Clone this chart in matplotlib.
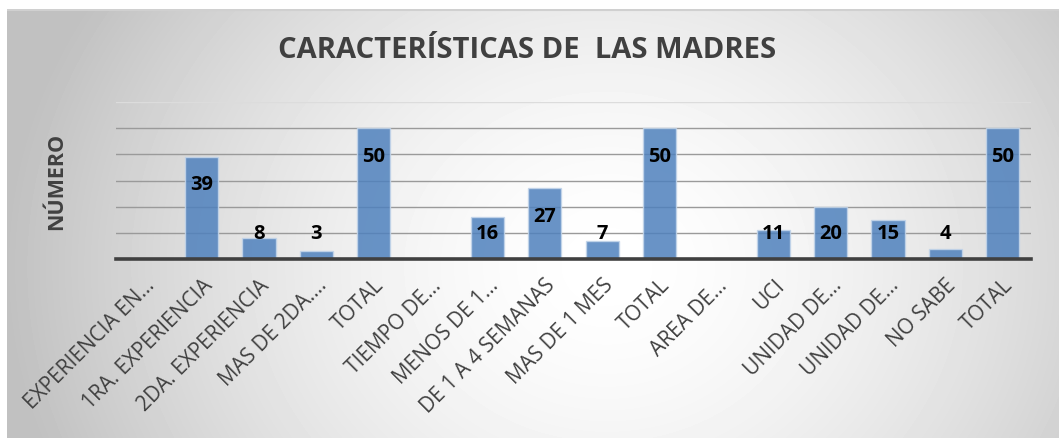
import numpy as np
import matplotlib
matplotlib.use("Agg")
import matplotlib.pyplot as plt

# data
categories = ["EXPERIENCIA EN…", "1RA. EXPERIENCIA", "2DA. EXPERIENCIA", "MAS DE 2DA.…",
              "TOTAL", "TIEMPO DE…", "MENOS DE 1…", "DE 1 A 4 SEMANAS", "MAS DE 1 MES",
              "TOTAL", "AREA DE…", "UCI", "UNIDAD DE…", "UNIDAD DE…", "NO SABE", "TOTAL"]
values = [0, 39, 8, 3, 50, 0, 16, 27, 7, 50, 0, 11, 20, 15, 4, 50]
show_label = [False, True, True, True, True, False, True, True, True, True,
              False, True, True, True, True, True]

plt.rcParams['font.family'] = ['Open Sans', 'DejaVu Sans']
txt = '#404040'

fig = plt.figure(figsize=(10.59, 4.39), dpi=100)
fig.patch.set_facecolor('white')

# radial gradient background for the chart area
bg = fig.add_axes([7 / 1059, 0, 1 - 7 / 1059, 1 - 10 / 439], zorder=-10)
h, w = 429, 1052
yy, xx = np.mgrid[0:h, 0:w]
cx, cy = 0.57 * w, 0.6 * h
d = np.sqrt(((xx - cx) / (0.52 * w)) ** 2 + ((yy - cy) / (1.1 * h)) ** 2)
d = np.clip(d, 0, 1.1)
shade = 1 - 0.21 * d ** 1.6
bg.imshow(shade, cmap='gray', vmin=0, vmax=1, aspect='auto', interpolation='bilinear')
bg.set_axis_off()
bg.axhline(0, color='#d0d0d0', linewidth=1.5)

ax = fig.add_axes([116 / 1059, 179 / 439, 915 / 1059, 157 / 439])
ax.set_facecolor('none')
x = np.arange(len(categories))
bars = ax.bar(x, values, width=0.58, color='#4F81BD', alpha=0.85,
              edgecolor='#c3d5ea', linewidth=1.0, zorder=3)

ax.set_xlim(-0.5, len(categories) - 0.5)
ax.set_ylim(0, 60)
for g in range(10, 60, 10):
    ax.axhline(g, color='#9a9a9a', linewidth=1.0, zorder=1)
ax.axhline(60, color='#dcdcdc', linewidth=1.0, zorder=1)

for s in ['top', 'right', 'left']:
    ax.spines[s].set_visible(False)
ax.spines['bottom'].set_color('#404040')
ax.spines['bottom'].set_linewidth(2.6)
ax.spines['bottom'].set_zorder(4)
ax.set_yticks([])
ax.tick_params(axis='x', length=0, pad=11)
ax.set_xticks(x)
ax.set_xticklabels(categories, rotation=45, ha='right', rotation_mode='anchor',
                   fontsize=15, color=txt)

for xi, v, s in zip(x, values, show_label):
    if s:
        ax.text(xi, max(v - 10.5, 10), str(v), ha='center', va='center',
                fontsize=14.5, fontweight='bold', color='black', zorder=5)

fig.text(0.498, 1 - 50 / 439, 'CARACTERÍSTICAS DE  LAS MADRES', ha='center', va='center',
         fontsize=21, fontweight='bold', color=txt)
fig.text(57 / 1059, 1 - 181 / 439, 'NÚMERO', rotation=90, ha='center', va='center',
         fontsize=15.5, fontweight='bold', color=txt)

fig.savefig('out.png', dpi=100)
